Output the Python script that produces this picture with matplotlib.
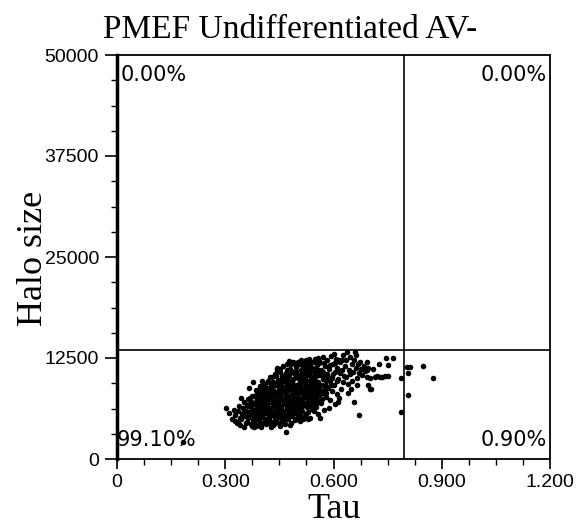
import matplotlib
matplotlib.use("Agg")
import matplotlib.pyplot as plt
from matplotlib.ticker import MultipleLocator

# gate positions and quadrant percentages
tau_cut = 0.795
halo_cut = 13500
quad_labels = ["0.00%", "0.00%", "99.10%", "0.90%"]

x_ticks = [0, 0.3, 0.6, 0.9, 1.2]
x_ticklabels = ["0", "0.300", "0.600", "0.900", "1.200"]
y_ticks = [0, 12500, 25000, 37500, 50000]
y_ticklabels = ["0", "12500", "25000", "37500", "50000"]

# (tau, halo size) events
edge_points = [
    (0.302, 6300), (0.311, 5700), (0.318, 4900), (0.324, 6060), (0.328, 5400), (0.332, 4450),
    (0.335, 4580), (0.338, 6600), (0.340, 5100), (0.326, 4700), (0.344, 7550), (0.336, 5900),
    (0.183, 2100),
]
core_points = [
    (0.342, 4200), (0.345, 4900), (0.347, 5600), (0.349, 6300), (0.351, 7000), (0.353, 4000),
    (0.355, 5300), (0.357, 6000), (0.359, 6700), (0.361, 4600), (0.362, 7400), (0.364, 5100),
    (0.366, 8790), (0.367, 5800), (0.368, 6500), (0.370, 4300), (0.371, 7100), (0.372, 5500),
    (0.374, 6200), (0.375, 7800), (0.376, 4800), (0.377, 9530), (0.378, 6900), (0.379, 5200),
    (0.380, 3950), (0.352, 5900), (0.358, 4400), (0.363, 6600), (0.369, 7600), (0.373, 4100),
    (0.381, 4600), (0.382, 5700), (0.383, 6800), (0.384, 7900), (0.385, 8600), (0.386, 5100),
    (0.387, 6300), (0.388, 7300), (0.389, 4200), (0.390, 8200), (0.391, 5500), (0.392, 6700),
    (0.393, 7700), (0.394, 4800), (0.395, 9000), (0.396, 6000), (0.397, 7100), (0.398, 5200),
    (0.399, 8400), (0.400, 3900), (0.401, 6500), (0.402, 9650), (0.403, 7500), (0.404, 5600),
    (0.405, 4400), (0.406, 8800), (0.407, 6900), (0.408, 6100), (0.409, 7900), (0.410, 5000),
    (0.411, 9300), (0.412, 4300), (0.413, 7200), (0.414, 8500), (0.415, 5800), (0.416, 6600),
    (0.417, 4700), (0.418, 9700), (0.419, 7600), (0.420, 5400),
    (0.421, 8200), (0.422, 6300), (0.423, 10100), (0.424, 4500), (0.425, 7000), (0.426, 9000),
    (0.427, 5700), (0.428, 7700), (0.429, 8700), (0.430, 10150), (0.431, 4200), (0.432, 6500),
    (0.433, 9500), (0.434, 5300), (0.435, 7300), (0.436, 8400), (0.437, 6000), (0.438, 10500),
    (0.439, 4800), (0.440, 7900), (0.441, 9200), (0.442, 6800), (0.443, 11260), (0.444, 5100),
    (0.445, 8100), (0.446, 7100), (0.447, 9800), (0.448, 4400), (0.449, 6200), (0.450, 8900),
    (0.451, 10800), (0.452, 5600), (0.453, 7500), (0.454, 9400), (0.455, 6600), (0.456, 4900),
    (0.457, 8300), (0.458, 10300), (0.459, 7200), (0.460, 5900), (0.427, 3900), (0.436, 4300),
    (0.444, 11000), (0.452, 4100), (0.458, 9000),
    (0.461, 11500), (0.462, 8600), (0.463, 4600), (0.464, 6800), (0.465, 9700), (0.466, 7600),
    (0.467, 5400), (0.468, 10600), (0.469, 8000), (0.470, 6300), (0.471, 11800), (0.472, 9100),
    (0.473, 4900), (0.474, 7300), (0.475, 10200), (0.476, 5800), (0.477, 8500), (0.478, 6700),
    (0.479, 11200), (0.480, 9500), (0.481, 4500), (0.482, 7900), (0.483, 6100), (0.484, 10800),
    (0.485, 8800), (0.486, 5300), (0.487, 7100), (0.488, 12000), (0.489, 9900), (0.490, 6500),
    (0.491, 8300), (0.492, 4800), (0.493, 10500), (0.494, 7500), (0.495, 5700), (0.496, 11400),
    (0.497, 9200), (0.498, 6900), (0.499, 8100), (0.500, 5100), (0.466, 4300), (0.478, 12100),
    (0.468, 3340), (0.480, 4200), (0.495, 10900),
    (0.501, 10400), (0.502, 7700), (0.503, 9000), (0.504, 6300), (0.505, 11700), (0.506, 8600),
    (0.507, 5500), (0.508, 10000), (0.509, 7100), (0.510, 12200), (0.511, 9400), (0.512, 6000),
    (0.513, 8200), (0.514, 10900), (0.515, 4900), (0.516, 7500), (0.517, 11400), (0.518, 9700),
    (0.519, 6700), (0.520, 8800), (0.521, 5300), (0.522, 10300), (0.523, 7900), (0.524, 12300),
    (0.525, 9100), (0.526, 6400), (0.527, 11000), (0.528, 8400), (0.529, 5800), (0.530, 7300),
    (0.531, 10600), (0.532, 9600), (0.533, 6900), (0.534, 11800), (0.535, 8000), (0.536, 5100),
    (0.537, 9900), (0.538, 7600), (0.539, 10200), (0.540, 6200), (0.508, 4700), (0.521, 11900),
    (0.530, 4900), (0.535, 12000),
    (0.541, 11300), (0.543, 8700), (0.545, 9800), (0.546, 7000), (0.548, 12400), (0.549, 10700),
    (0.551, 6400), (0.552, 8900), (0.554, 11600), (0.555, 7800), (0.557, 9500), (0.558, 5600),
    (0.560, 10400), (0.561, 12100), (0.563, 8300), (0.564, 6900), (0.566, 11000), (0.567, 9200),
    (0.569, 7400), (0.570, 12600), (0.572, 10100), (0.573, 8600), (0.575, 6100), (0.576, 11500),
    (0.578, 9700), (0.579, 7700), (0.547, 5900), (0.556, 12500), (0.563, 5070), (0.571, 10800),
    (0.577, 8100), (0.544, 6600), (0.559, 11900),
    (0.581, 10500), (0.583, 12200), (0.585, 8800), (0.587, 11200), (0.589, 9600), (0.591, 7300),
    (0.593, 12700), (0.595, 10000), (0.597, 8400), (0.599, 11700), (0.601, 9200), (0.603, 6800),
    (0.605, 10800), (0.607, 12400), (0.609, 8000), (0.611, 11300), (0.613, 9900), (0.615, 7600),
    (0.617, 10600), (0.619, 12000), (0.621, 8700), (0.623, 11000), (0.625, 9500), (0.627, 12900),
    (0.629, 10300), (0.588, 6300), (0.600, 13000), (0.612, 7000),
]
# extra events in the solid middle of the cloud
core_fill = [
    (0.3835, 6050), (0.3865, 7650), (0.3895, 5850), (0.3925, 8550), (0.3955, 6350), (0.3985, 7350),
    (0.4015, 5350), (0.4045, 8150), (0.4075, 6650), (0.4105, 7450), (0.4135, 5650), (0.4165, 8750),
    (0.4195, 6250), (0.4225, 7250), (0.4255, 5950), (0.4285, 8950), (0.4315, 6750), (0.4345, 7850),
    (0.4375, 5450), (0.4405, 9450), (0.4435, 6450), (0.4465, 8350), (0.4495, 7450), (0.4525, 9750),
    (0.4555, 5750), (0.4585, 8650), (0.4615, 6950), (0.4645, 9950), (0.4675, 7350), (0.4705, 8850),
    (0.4735, 6050), (0.4765, 10450), (0.4795, 7650), (0.4825, 9250), (0.4855, 6350), (0.4885, 10750),
    (0.4915, 7850), (0.4945, 9050), (0.4975, 6650), (0.5005, 10050), (0.5035, 8250), (0.5065, 9650),
    (0.5095, 7350), (0.5125, 10650), (0.5155, 8550), (0.5185, 6950), (0.5215, 9850), (0.5245, 7750),
    (0.5275, 10350), (0.5305, 8650), (0.5335, 9350), (0.5365, 7150), (0.5395, 10850), (0.5425, 8050),
    (0.5455, 9150), (0.5485, 7550), (0.5515, 10250), (0.5545, 8450), (0.5575, 11050), (0.5605, 9050),
    (0.395, 7400), (0.405, 8400), (0.415, 7000), (0.425, 8000), (0.435, 6800), (0.445, 9300),
    (0.455, 8000), (0.465, 10400), (0.475, 7000), (0.485, 9600), (0.495, 8400), (0.505, 9300),
    (0.515, 8000), (0.525, 10600), (0.535, 9000), (0.545, 10300), (0.390, 6300), (0.400, 7100),
    (0.410, 6800), (0.420, 7400), (0.430, 5500), (0.440, 6300), (0.450, 7700), (0.460, 8300),
    (0.470, 9600), (0.480, 7300), (0.490, 9100), (0.500, 8700), (0.510, 8900), (0.520, 9700),
    (0.530, 7700), (0.540, 8700), (0.550, 9600), (0.560, 7900), (0.570, 9900), (0.580, 8200),
    (0.365, 5700), (0.372, 6700), (0.378, 4500), (0.384, 7000), (0.391, 7900), (0.397, 4500),
    (0.403, 6000), (0.409, 8900), (0.414, 6100), (0.421, 5000), (0.426, 8500), (0.432, 7600),
    (0.437, 9100), (0.443, 5800), (0.448, 8600), (0.454, 6300), (0.459, 9700), (0.464, 5600),
    (0.469, 7600), (0.474, 8800), (0.479, 5300), (0.484, 7600), (0.489, 8600), (0.494, 6100),
    (0.499, 10100), (0.504, 7300), (0.509, 11000), (0.514, 6600), (0.519, 10300), (0.524, 8400),
    (0.529, 11400), (0.534, 6600), (0.539, 9300), (0.544, 7500), (0.549, 11100), (0.554, 6900),
    (0.559, 8700), (0.564, 10700), (0.569, 8200), (0.574, 11900), (0.579, 9000), (0.584, 10100),
    (0.589, 11600), (0.594, 9200), (0.599, 10500), (0.604, 11900), (0.609, 9600), (0.614, 12300),
    (0.619, 10900), (0.624, 12200),
    (0.368, 7300), (0.377, 6100), (0.386, 4100), (0.394, 8200), (0.404, 9100), (0.413, 4900),
    (0.422, 9500), (0.432, 8300), (0.442, 10300), (0.452, 11100), (0.462, 10200), (0.472, 11000),
    (0.482, 11700), (0.492, 11900), (0.502, 12000), (0.512, 11600), (0.522, 12000), (0.532, 12400),
    (0.542, 12000), (0.552, 12300), (0.433, 4600), (0.447, 5400), (0.457, 5200), (0.471, 5100),
    (0.487, 5700), (0.498, 5900), (0.511, 5200), (0.524, 5600), (0.541, 6600), (0.553, 7300),
]
tail_points = [
    (0.640, 8170), (0.657, 7050), (0.670, 5450), (0.701, 8660), (0.637, 13240), (0.659, 13240),
    (0.662, 12870), (0.632, 11500), (0.634, 10200), (0.636, 12300), (0.639, 9300), (0.642, 11000),
    (0.645, 12600), (0.647, 10500), (0.650, 9700), (0.652, 11800), (0.655, 10800), (0.658, 12200),
    (0.661, 11300), (0.664, 10000), (0.667, 11700), (0.670, 10600), (0.673, 12000), (0.676, 11100),
    (0.680, 10400), (0.684, 11500), (0.688, 10900), (0.692, 10200), (0.695, 11300), (0.648, 8700),
    (0.665, 9200),
    (0.693, 12000), (0.693, 11010), (0.701, 10020), (0.715, 10150), (0.729, 10150), (0.743, 10270),
    (0.751, 10270), (0.695, 9160), (0.704, 8660), (0.745, 12500), (0.765, 12500), (0.751, 11630),
    (0.720, 10300), (0.735, 10200), (0.710, 11200), (0.725, 11800), (0.787, 10020), (0.787, 5820),
    (0.804, 11390), (0.812, 11390), (0.806, 10640), (0.848, 11510), (0.875, 10020), (0.806, 7920),
]

points = edge_points + core_points + core_fill + tail_points
tau = [p[0] for p in points]
halo = [p[1] for p in points]

sans = "Liberation Sans"
serif = "Liberation Serif"

fig = plt.figure(figsize=(5.77, 5.26), dpi=100)
ax = fig.add_axes([117 / 577, 67 / 526, 433 / 577, 404 / 526])

ax.plot(tau, halo, ls="none", marker="o", ms=4.0, mew=0, color="black")
ax.axvline(tau_cut, color="black", lw=1.2)
ax.axhline(halo_cut, color="black", lw=1.2)

ax.set_xlim(0, 1.2)
ax.set_ylim(0, 50000)
ax.set_xticks(x_ticks)
ax.set_xticklabels(x_ticklabels, fontsize=14, family=sans)
ax.set_yticks(y_ticks)
ax.set_yticklabels(y_ticklabels, fontsize=14, family=sans)
ax.xaxis.set_minor_locator(MultipleLocator(0.075))
ax.yaxis.set_minor_locator(MultipleLocator(3125))
ax.tick_params(which="major", direction="out", length=7, width=1.2, pad=4)
ax.tick_params(axis="y", which="major", length=9, pad=4)
ax.tick_params(which="minor", direction="out", length=4, width=1)

for side in ["top", "right", "bottom"]:
    ax.spines[side].set_linewidth(1.3)
ax.spines["left"].set_linewidth(2.5)

# quadrant percentages
pct = dict(transform=ax.transAxes, fontsize=15, family="DejaVu Sans")
ax.text(0.008, 0.975, quad_labels[0], ha="left", va="top", **pct)
ax.text(0.993, 0.975, quad_labels[1], ha="right", va="top", **pct)
ax.text(0.0, 0.032, quad_labels[2], ha="left", va="baseline", **pct)
ax.text(0.993, 0.032, quad_labels[3], ha="right", va="baseline", **pct)

fig.text(290 / 577, 1 - 29 / 526, "PMEF Undifferentiated AV-", ha="center", va="center", fontsize=24, family=serif)
fig.text(33 / 577, 1 - 258 / 526, "Halo size", rotation=90, ha="center", va="center", fontsize=26, family=serif)
fig.text(334 / 577, 1 - 518 / 526, "Tau", ha="center", va="baseline", fontsize=26, family=serif)

fig.savefig("out.png", dpi=100)
plt.close(fig)
